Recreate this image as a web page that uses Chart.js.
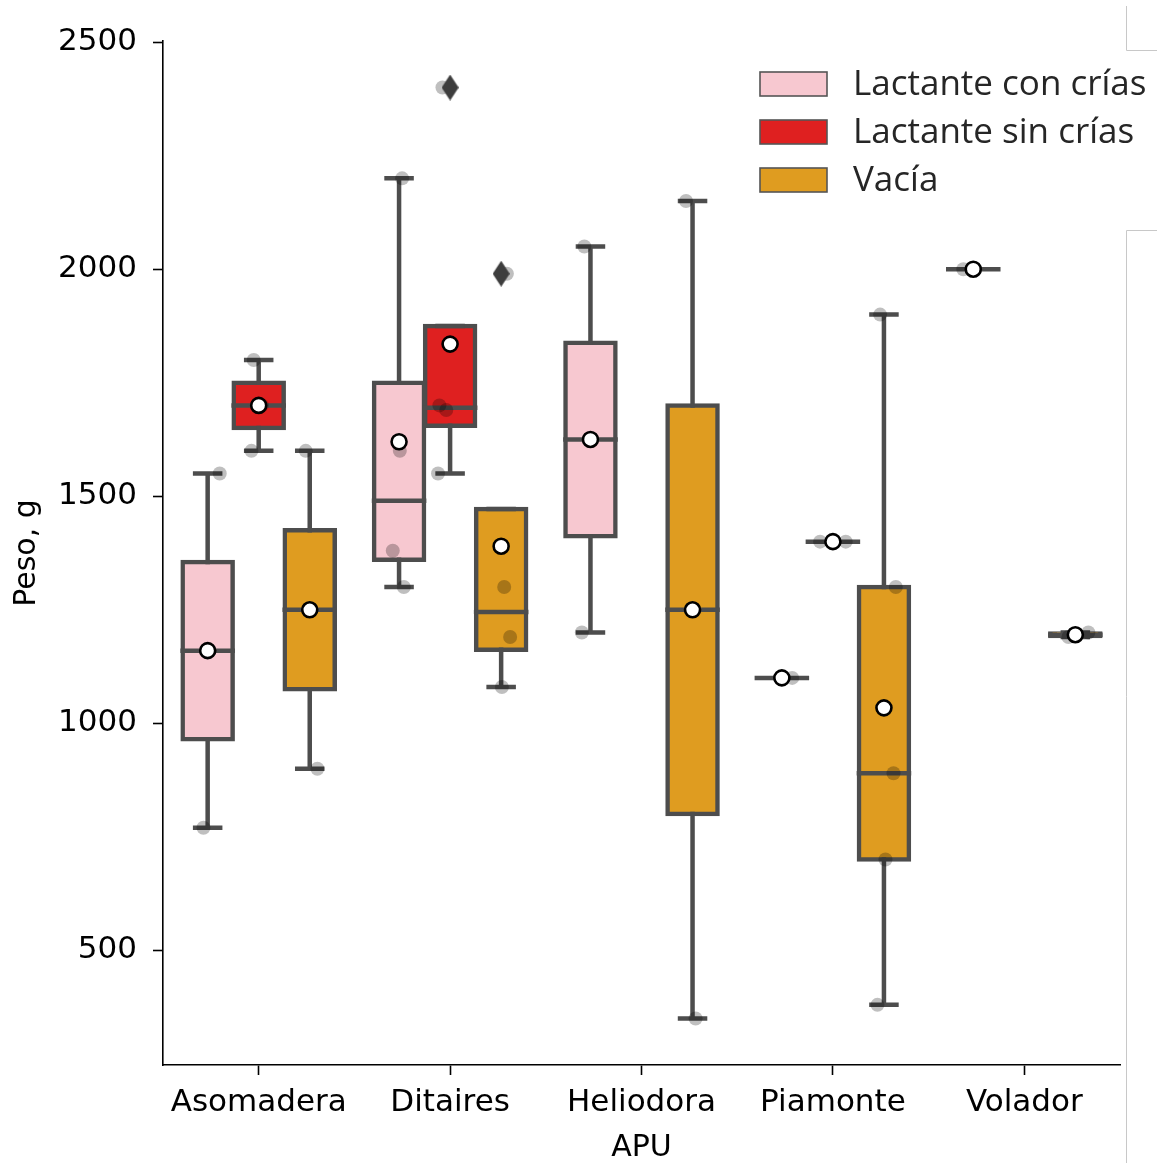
<!DOCTYPE html>
<html>
<head>
<meta charset="utf-8">
<title>Peso por APU y estado reproductivo</title>
<script src="https://cdn.jsdelivr.net/npm/chart.js@4.4.1/dist/chart.umd.min.js"></script>
<style>
  html, body { margin: 0; padding: 0; background: #ffffff; }
  canvas { display: block; }
</style>
</head>
<body>
<canvas id="chart" width="1157" height="1163"></canvas>
<script>
// ---- data -------------------------------------------------------------
const categories = ['Asomadera', 'Ditaires', 'Heliodora', 'Piamonte', 'Volador'];
const hues = ['Lactante con crías', 'Lactante sin crías', 'Vacía'];
const yTicks = [500, 1000, 1500, 2000, 2500];

// box statistics, one row per hue, one column per APU (null = no animals)
const boxQ1 = [
  [965, 1360, 1412, 1100, 2000],
  [1650, 1655, null, 1400, null],
  [1075, 1162, 800, 700, 1192]
];
const boxMedian = [
  [1160, 1490, 1625, 1100, 2000],
  [1700, 1695, null, 1400, null],
  [1250, 1245, 1250, 890, 1195]
];
const boxQ3 = [
  [1355, 1750, 1838, 1100, 2000],
  [1750, 1875, null, 1400, null],
  [1425, 1472, 1700, 1300, 1198]
];
const whiskerLow = [
  [770, 1300, 1200, 1100, 2000],
  [1600, 1550, null, 1400, null],
  [900, 1080, 350, 380, 1190]
];
const whiskerHigh = [
  [1550, 2200, 2050, 1100, 2000],
  [1800, 1875, null, 1400, null],
  [1600, 1472, 2150, 1900, 1200]
];
const boxMean = [
  [1160, 1620, 1625, 1100, 2000],
  [1700, 1835, null, 1400, null],
  [1250, 1390, 1250, 1034, 1195]
];

// individual animals (hue index, APU index, weight, strip jitter)
const stripHue    = [0,0,0, 0,0,0,0, 0,0,0, 0,0, 0,0, 1,1,1, 1,1,1,1, 1,1, 2,2,2, 2,2,2,2, 2,2,2, 2,2,2,2,2, 2,2];
const stripSite   = [0,0,0, 1,1,1,1, 2,2,2, 3,3, 4,4, 0,0,0, 1,1,1,1, 3,3, 0,0,0, 1,1,1,1, 2,2,2, 3,3,3,3,3, 4,4];
const stripWeight = [770,1160,1550, 1300,1380,1600,2200, 1200,1625,2050, 1100,1100, 2000,2000,
                     1600,1700,1800, 1550,1690,1700,2400, 1400,1400,
                     900,1250,1600, 1080,1190,1300,1990, 350,1250,2150, 380,700,890,1300,1900, 1190,1200];
const stripJitter = [-0.022,0.010,0.063, 0.025,-0.033,0.004,0.016, -0.045,0.000,-0.032, 0.000,0.054, -0.052,0.010,
                     -0.038,0.016,-0.026, -0.063,-0.020,-0.056,-0.040, -0.067,0.067,
                     0.040,0.000,-0.021, 0.004,0.047,0.016,0.030, 0.016,0.000,-0.034, -0.034,0.008,0.050,0.062,-0.020, -0.036,0.068];

// values beyond 1.5 IQR
const outlierHue    = [1, 2];
const outlierSite   = [1, 1];
const outlierWeight = [2400, 1990];

// ---- style ------------------------------------------------------------
const hueColors = ['#f7c8d0', '#df2020', '#df9c20'];
const LINE = '#4d4d4d';
const LW = 4.5;
const DODGE = 0.8 / hues.length;      // slot of each hue inside a category
const BOX_W = DODGE * 0.98;           // drawn box width
const CAP_HALF = BOX_W / 4;
const FONT = '"DejaVu Sans", "Liberation Sans", sans-serif';

const xOf = (c, h) => c + (h - (hues.length - 1) / 2) * DODGE;

function thinDiamond(w, h, color) {
  const cv = document.createElement('canvas');
  cv.width = w; cv.height = h;
  const g = cv.getContext('2d');
  g.fillStyle = color;
  g.beginPath();
  g.moveTo(w / 2, 0); g.lineTo(w, h / 2); g.lineTo(w / 2, h); g.lineTo(0, h / 2);
  g.closePath(); g.fill();
  return cv;
}

// line segments of one hue, separated by gaps
function segmentsFor(h, build) {
  const pts = [];
  categories.forEach((_, c) => {
    if (boxQ1[h][c] == null) return;
    build(c, xOf(c, h)).forEach(([a, b]) => { pts.push(a, b, { x: b.x, y: null }); });
  });
  return pts;
}

const datasets = [];

// boxes (interquartile range as floating bars); the inflation centres the
// outline on the quartile edges instead of drawing it inside the bar
hues.forEach((name, h) => {
  datasets.push({
    type: 'bar', label: name, order: 5,
    data: categories.map((_, c) => boxQ1[h][c] == null ? null
      : { x: xOf(c, h), y: [boxQ1[h][c], boxQ3[h][c]] }).filter(Boolean),
    backgroundColor: hueColors[h], borderColor: LINE, borderWidth: LW,
    borderSkipped: false, grouped: false, inflateAmount: LW / 2,
    categoryPercentage: 1, barPercentage: 0.98
  });
});

// whiskers, caps and medians
const lineStyle = {
  type: 'line', order: 4, borderColor: LINE, borderWidth: LW, borderCapStyle: 'square',
  pointRadius: 0, fill: false, tension: 0, spanGaps: false
};
hues.forEach((name, h) => {
  datasets.push(Object.assign({}, lineStyle, {
    label: 'whiskers ' + name,
    data: segmentsFor(h, (c, x) => [
      [{ x, y: boxQ1[h][c] }, { x, y: whiskerLow[h][c] }],
      [{ x, y: boxQ3[h][c] }, { x, y: whiskerHigh[h][c] }],
      [{ x: x - CAP_HALF, y: whiskerLow[h][c] }, { x: x + CAP_HALF, y: whiskerLow[h][c] }],
      [{ x: x - CAP_HALF, y: whiskerHigh[h][c] }, { x: x + CAP_HALF, y: whiskerHigh[h][c] }],
      [{ x: x - BOX_W / 2, y: boxMedian[h][c] }, { x: x + BOX_W / 2, y: boxMedian[h][c] }]
    ])
  }));
});

// individual animals
datasets.push({
  type: 'line', label: 'animals', order: 3, showLine: false,
  data: stripWeight.map((w, i) => ({ x: xOf(stripSite[i], stripHue[i]) + stripJitter[i], y: w })),
  pointRadius: 7, pointBorderWidth: 0, pointBackgroundColor: 'rgba(0,0,0,0.25)'
});

// outliers
datasets.push({
  type: 'line', label: 'outliers', order: 2, showLine: false,
  data: outlierWeight.map((w, i) => ({ x: xOf(outlierSite[i], outlierHue[i]), y: w })),
  pointStyle: thinDiamond(17, 26, '#3d3d3d')
});

// means
hues.forEach((name, h) => {
  datasets.push({
    type: 'line', label: 'mean ' + name, order: 1, showLine: false,
    data: categories.map((_, c) => boxMean[h][c] == null ? null
      : { x: xOf(c, h), y: boxMean[h][c] }).filter(Boolean),
    pointRadius: 7.5, pointBorderWidth: 2.6,
    pointBackgroundColor: '#ffffff', pointBorderColor: '#000000'
  });
});

// legend for the three hues, upper right inside the plot
const hueLegend = {
  id: 'hueLegend',
  afterDraw(chart) {
    const { ctx, chartArea } = chart;
    const boxes = chart.data.datasets.filter(d => d.type === 'bar');
    const left = chartArea.right - 360;
    const top = chartArea.top + 43;
    ctx.save();
    ctx.filter = 'blur(0.5px)';
    ctx.font = '35px "Open Sans", "Noto Sans", sans-serif';
    ctx.textBaseline = 'middle';
    ctx.textAlign = 'left';
    boxes.forEach((d, i) => {
      const cy = top + i * 48;
      ctx.fillStyle = d.backgroundColor;
      ctx.fillRect(left, cy - 12, 67, 24);
      ctx.strokeStyle = '#555555';
      ctx.lineWidth = 1.6;
      ctx.strokeRect(left, cy - 12, 67, 24);
      ctx.fillStyle = '#262626';
      ctx.fillText(d.label, left + 93, cy + 1);
    });
    ctx.restore();
  }
};

// thin frame lines along the right edge of the page
const pageFrame = {
  id: 'pageFrame',
  afterDraw(chart) {
    const { ctx, width, height } = chart;
    ctx.save();
    ctx.strokeStyle = '#c8c8c8';
    ctx.lineWidth = 1;
    ctx.beginPath();
    ctx.moveTo(1126.5, 6); ctx.lineTo(1126.5, 50.5); ctx.lineTo(width, 50.5);
    ctx.moveTo(width, 230.5); ctx.lineTo(1126.5, 230.5); ctx.lineTo(1126.5, height);
    ctx.stroke();
    ctx.restore();
  }
};

new Chart(document.getElementById('chart'), {
  type: 'bar',
  data: { datasets },
  options: {
    responsive: false,
    animation: false,
    events: [],
    layout: { padding: { left: 0, top: 41, right: 37, bottom: 0 } },
    plugins: { legend: { display: false }, tooltip: { enabled: false } },
    scales: {
      x: {
        type: 'linear', min: -0.5, max: 4.5, offset: false,
        afterBuildTicks: s => { s.ticks = categories.map((_, i) => ({ value: i })); },
        afterFit: s => { s.height = 98; },
        ticks: {
          autoSkip: false, maxRotation: 0, padding: 9, color: '#000000',
          font: { family: FONT, size: 31 },
          callback: v => categories[Math.round(v)]
        },
        grid: { display: true, drawOnChartArea: false, drawTicks: true, offset: false,
                tickLength: 10, tickWidth: 1.6, tickColor: '#000000', color: '#000000' },
        border: { display: true, color: '#000000', width: 1.6 },
        title: { display: true, text: 'APU', color: '#000000',
                 font: { family: FONT, size: 30 }, padding: { top: 0, bottom: -3 } }
      },
      y: {
        type: 'linear', min: 247.5, max: 2502.5,
        afterBuildTicks: s => { s.ticks = yTicks.map(v => ({ value: v })); },
        afterFit: s => { s.width = 163; },
        ticks: { padding: 16, color: '#000000', font: { family: FONT, size: 31 },
                 callback: v => String(v) },
        grid: { display: true, drawOnChartArea: false, drawTicks: true,
                tickLength: 10, tickWidth: 1.6, tickColor: '#000000', color: '#000000' },
        border: { display: true, color: '#000000', width: 1.6 },
        title: { display: true, text: 'Peso, g', color: '#000000',
                 font: { family: FONT, size: 30 }, padding: { top: 9, bottom: 0 } }
      }
    }
  },
  plugins: [hueLegend, pageFrame]
});
</script>
</body>
</html>
